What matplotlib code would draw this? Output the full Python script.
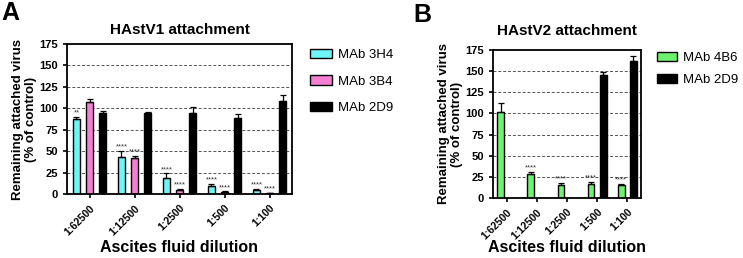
import numpy as np
import matplotlib
matplotlib.use("Agg")
import matplotlib.pyplot as plt
from matplotlib.patches import Patch

plt.rcParams['font.family'] = ['Arial', 'Liberation Sans', 'DejaVu Sans']

dilutions = ["1:62500", "1:12500", "1:2500", "1:500", "1:100"]

# Panel A - HAstV1
v1_3h4 = [88, 43, 19, 9, 5]
v1_3h4_err = [2, 7, 5, 3, 1]
v1_3h4_sig = ["**", "****", "****", "****", "****"]
v1_3b4 = [107, 42, 5, 2, 1]
v1_3b4_err = [4, 2, 1, 1, 0.5]
v1_3b4_sig = ["", "****", "****", "****", "****"]
v1_2d9 = [95, 94, 94, 89, 108]
v1_2d9_err = [2, 2, 7, 4, 8]

# Panel B - HAstV2
v2_4b6 = [102, 28, 15, 17, 15]
v2_4b6_err = [10, 3, 3, 2, 2]
v2_4b6_sig = ["", "****", "****", "****", "****"]
v2_2d9 = [0, 0, 0, 145, 162]
v2_2d9_err = [0, 0, 0, 4, 6]

cyan = "#6ff5f5"
pink = "#f57fd3"
green = "#6ef26e"

W, H = 743, 258
fig = plt.figure(figsize=(W / 100, H / 100), dpi=100)


def px_axes(x0, y0, x1, y1):
    return fig.add_axes([x0 / W, 1 - y1 / H, (x1 - x0) / W, (y1 - y0) / H])


def style(ax, title, title_pad, xlab_y):
    ax.set_ylim(0, 175)
    ax.set_yticks(np.arange(0, 176, 25))
    for yv in range(25, 175, 25):
        ax.axhline(yv, color="#555555", lw=0.7, ls=(0, (3, 2)), zorder=0)
    for s in ax.spines.values():
        s.set_linewidth(1.3)
    ax.tick_params(axis="both", labelsize=8, width=1.2, length=3)
    for lab in ax.get_yticklabels():
        lab.set_fontweight("bold")
    ax.set_xticks(range(len(dilutions)))
    ax.set_xticklabels(dilutions, rotation=45, ha="right", rotation_mode="anchor",
                       fontweight="bold", fontsize=7.5)
    ax.set_title(title, fontsize=11, fontweight="bold", pad=title_pad)
    ax.set_ylabel("Remaining attached virus\n(% of control)", fontsize=9.5,
                  fontweight="bold", linespacing=1.1, labelpad=1.5)
    ax.set_xlabel("Ascites fluid dilution", fontsize=11.5, fontweight="bold")
    ax.xaxis.set_label_coords(0.5, xlab_y)


def bars(ax, x, vals, errs, color, width, sigs=None):
    ax.bar(x, vals, width, color=color, edgecolor="black", linewidth=1.0, zorder=2)
    ax.errorbar(x, vals, yerr=[np.zeros(len(errs)), errs], fmt="none", ecolor="black",
                elinewidth=0.9, capsize=2, capthick=0.9, zorder=3)
    if sigs:
        for xi, v, e, s in zip(x, vals, errs, sigs):
            if s:
                ax.text(xi, v + e + 0.5, s, ha="center", va="bottom", fontsize=5.5,
                        color="#333333")


# Panel A
axA = px_axes(67, 44, 292, 194)
x = np.arange(len(dilutions))
w = 0.16
axA.set_xlim(-0.5, 4.5)
bars(axA, x - 0.29, v1_3h4, v1_3h4_err, cyan, w, v1_3h4_sig)
bars(axA, x, v1_3b4, v1_3b4_err, pink, w, v1_3b4_sig)
bars(axA, x + 0.29, v1_2d9, v1_2d9_err, "black", w)
style(axA, "HAstV1 attachment", 7, -(240 - 194) / 150)
axA.legend(handles=[Patch(facecolor=cyan, edgecolor="black", label="MAb 3H4"),
                    Patch(facecolor=pink, edgecolor="black", label="MAb 3B4"),
                    Patch(facecolor="black", edgecolor="black", label="MAb 2D9")],
           loc="upper left", bbox_to_anchor=(1.08, 0.967), frameon=False, fontsize=9.5,
           borderpad=0, borderaxespad=0, handlelength=1.67, handleheight=0.7,
           labelspacing=1.07, handletextpad=0.45)

# Panel B
axB = px_axes(493, 50, 641, 198)
axB.set_xlim(-0.45, 4.45)
wb = 0.22
bars(axB, x - 0.2, v2_4b6, v2_4b6_err, green, wb, v2_4b6_sig)
bars(axB, x[3:] + 0.2, v2_2d9[3:], v2_2d9_err[3:], "black", wb)
style(axB, "HAstV2 attachment", 11, -(240 - 198) / 148)
axB.legend(handles=[Patch(facecolor=green, edgecolor="black", label="MAb 4B6"),
                    Patch(facecolor="black", edgecolor="black", label="MAb 2D9")],
           loc="upper left", bbox_to_anchor=(1.108, 0.986), frameon=False, fontsize=9.5,
           borderpad=0, borderaxespad=0, handlelength=1.5, handleheight=0.7,
           labelspacing=0.75, handletextpad=0.45)

fig.text(1 / W, 1 - 1 / H, "A", fontsize=18, fontweight="bold", va="top")
fig.text(413 / W, 1 - 3 / H, "B", fontsize=18, fontweight="bold", va="top")

fig.savefig("out.png", dpi=100)
